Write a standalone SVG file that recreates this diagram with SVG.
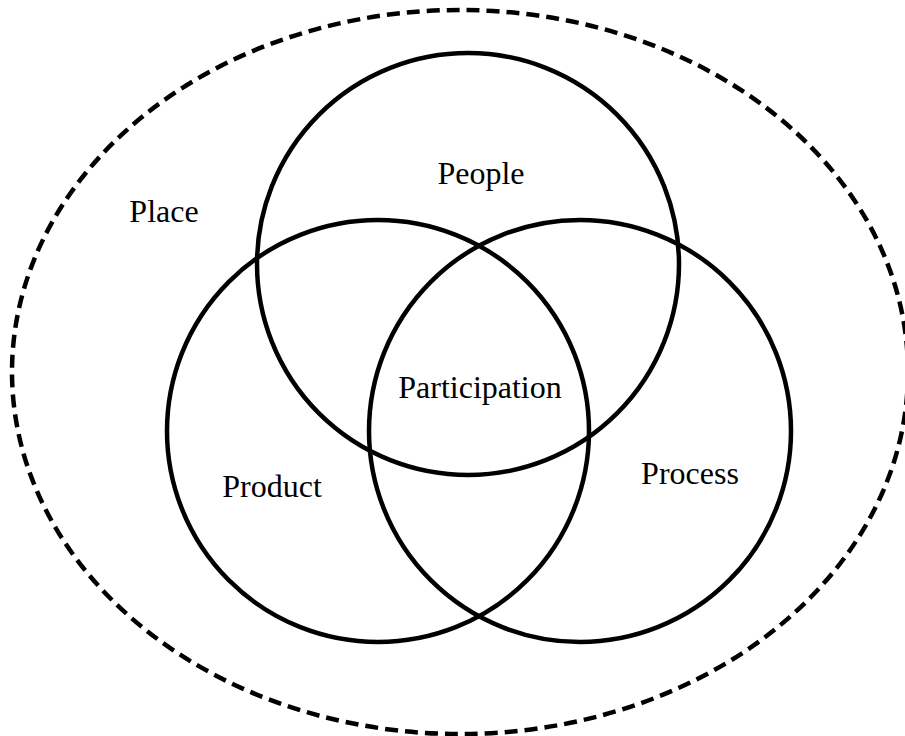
<svg xmlns="http://www.w3.org/2000/svg" width="905" height="736" viewBox="0 0 905 736">
<style>
.c{fill:none;stroke:#000;stroke-width:4.5}
.d{fill:none;stroke:#000;stroke-width:4.5;stroke-dasharray:13 7}
text{font-family:"Liberation Serif","Times New Roman",serif;font-size:32px;fill:#000;text-anchor:middle}
</style>
<rect width="905" height="736" fill="#fff"/>
<g id="place"><ellipse class="d" cx="460" cy="372" rx="448" ry="362"/><text x="164" y="222">Place</text></g>
<g id="people"><circle class="c" cx="468" cy="264" r="211"/><text x="481" y="184">People</text></g>
<g id="product"><circle class="c" cx="378" cy="431" r="211"/><text x="272" y="497">Product</text></g>
<g id="process"><circle class="c" cx="580" cy="431" r="211"/><text x="690" y="484">Process</text></g>
<g id="participation"><text x="480" y="398">Participation</text></g>
<g id="connectors"></g>
</svg>
